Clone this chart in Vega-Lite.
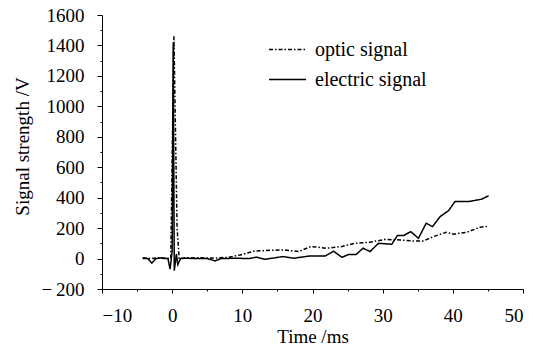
{
  "$schema": "https://vega.github.io/schema/vega-lite/v6.json",
  "autosize": "none",
  "width": 421,
  "height": 274,
  "padding": {"left": 102, "top": 15, "right": 21, "bottom": 70},
  "config": {
    "view": {"stroke": null},
    "font": "Liberation Serif",
    "axis": {"grid": false, "domainColor": "black", "tickColor": "black", "labelColor": "black", "titleColor": "black", "labelFont": "Liberation Serif", "titleFont": "Liberation Serif", "labelFontSize": 19, "titleFontSize": 19, "titleFontWeight": "normal"},
    "legend": {"labelFont": "Liberation Serif", "labelFontSize": 20, "labelColor": "black"}
  },
  "data": {"values": [
    {"t": -4.2, "v": 5, "s": "optic signal"},
    {"t": -3, "v": 0, "s": "optic signal"},
    {"t": -2, "v": 5, "s": "optic signal"},
    {"t": -1, "v": 0, "s": "optic signal"},
    {"t": -0.2, "v": 0, "s": "optic signal"},
    {"t": 0.25, "v": 1460, "s": "optic signal"},
    {"t": 0.7, "v": 200, "s": "optic signal"},
    {"t": 1.0, "v": 0, "s": "optic signal"},
    {"t": 2, "v": 5, "s": "optic signal"},
    {"t": 4, "v": 5, "s": "optic signal"},
    {"t": 6, "v": 3, "s": "optic signal"},
    {"t": 8, "v": 8, "s": "optic signal"},
    {"t": 9.7, "v": 24, "s": "optic signal"},
    {"t": 11.8, "v": 50, "s": "optic signal"},
    {"t": 15.8, "v": 57, "s": "optic signal"},
    {"t": 18.0, "v": 46, "s": "optic signal"},
    {"t": 19.8, "v": 79, "s": "optic signal"},
    {"t": 22.0, "v": 68, "s": "optic signal"},
    {"t": 24.2, "v": 79, "s": "optic signal"},
    {"t": 26.0, "v": 100, "s": "optic signal"},
    {"t": 28.2, "v": 107, "s": "optic signal"},
    {"t": 30.3, "v": 126, "s": "optic signal"},
    {"t": 32.5, "v": 122, "s": "optic signal"},
    {"t": 34.4, "v": 115, "s": "optic signal"},
    {"t": 35.8, "v": 115, "s": "optic signal"},
    {"t": 37.2, "v": 144, "s": "optic signal"},
    {"t": 39.1, "v": 173, "s": "optic signal"},
    {"t": 40.1, "v": 160, "s": "optic signal"},
    {"t": 42.0, "v": 173, "s": "optic signal"},
    {"t": 43.9, "v": 206, "s": "optic signal"},
    {"t": 45.1, "v": 212, "s": "optic signal"},
    {"t": -4.2, "v": 0, "s": "electric signal"},
    {"t": -3.5, "v": 0, "s": "electric signal"},
    {"t": -2.9, "v": -30, "s": "electric signal"},
    {"t": -2.3, "v": 0, "s": "electric signal"},
    {"t": -1.5, "v": 5, "s": "electric signal"},
    {"t": -0.6, "v": 0, "s": "electric signal"},
    {"t": -0.3, "v": -70, "s": "electric signal"},
    {"t": 0.0, "v": 50, "s": "electric signal"},
    {"t": 0.15, "v": 1420, "s": "electric signal"},
    {"t": 0.3, "v": -80, "s": "electric signal"},
    {"t": 0.6, "v": 30, "s": "electric signal"},
    {"t": 0.8, "v": -40, "s": "electric signal"},
    {"t": 1.2, "v": 0, "s": "electric signal"},
    {"t": 2, "v": 3, "s": "electric signal"},
    {"t": 3, "v": 0, "s": "electric signal"},
    {"t": 5, "v": 0, "s": "electric signal"},
    {"t": 6.1, "v": -15, "s": "electric signal"},
    {"t": 7, "v": 0, "s": "electric signal"},
    {"t": 9, "v": 2, "s": "electric signal"},
    {"t": 11.1, "v": 0, "s": "electric signal"},
    {"t": 12.0, "v": 10, "s": "electric signal"},
    {"t": 13.2, "v": -5, "s": "electric signal"},
    {"t": 15.8, "v": 13, "s": "electric signal"},
    {"t": 17.3, "v": 2, "s": "electric signal"},
    {"t": 19.6, "v": 17, "s": "electric signal"},
    {"t": 21.8, "v": 17, "s": "electric signal"},
    {"t": 23.0, "v": 48, "s": "electric signal"},
    {"t": 24.2, "v": 8, "s": "electric signal"},
    {"t": 25.1, "v": 26, "s": "electric signal"},
    {"t": 26.2, "v": 26, "s": "electric signal"},
    {"t": 27.2, "v": 68, "s": "electric signal"},
    {"t": 28.2, "v": 46, "s": "electric signal"},
    {"t": 29.4, "v": 100, "s": "electric signal"},
    {"t": 31.3, "v": 94, "s": "electric signal"},
    {"t": 32.1, "v": 151, "s": "electric signal"},
    {"t": 33.0, "v": 151, "s": "electric signal"},
    {"t": 34.0, "v": 177, "s": "electric signal"},
    {"t": 35.1, "v": 133, "s": "electric signal"},
    {"t": 36.2, "v": 232, "s": "electric signal"},
    {"t": 37.1, "v": 210, "s": "electric signal"},
    {"t": 38.2, "v": 276, "s": "electric signal"},
    {"t": 39.4, "v": 315, "s": "electric signal"},
    {"t": 40.3, "v": 374, "s": "electric signal"},
    {"t": 42.2, "v": 374, "s": "electric signal"},
    {"t": 44.1, "v": 390, "s": "electric signal"},
    {"t": 45.1, "v": 413, "s": "electric signal"}
  ]},
  "resolve": {"axis": {"x": "independent", "y": "independent"}},
  "layer": [
    {
      "mark": {"type": "line", "strokeWidth": 1.5, "color": "black"},
      "encoding": {
        "x": {"field": "t", "type": "quantitative", "scale": {"domain": [-10, 50], "nice": false, "zero": false},
              "axis": {"orient": "bottom", "values": [-10, 0, 10, 20, 30, 40, 50], "format": "d", "tickSize": 4, "labelPadding": 13, "title": "Time /ms", "titleFontWeight": "normal", "titlePadding": 2}},
        "y": {"field": "v", "type": "quantitative", "scale": {"domain": [-200, 1600], "nice": false},
              "axis": {"orient": "left", "values": [-200, 0, 200, 400, 600, 800, 1000, 1200, 1400, 1600], "format": "d", "labelExpr": "datum.value < 0 ? '\u2212\u2009' + abs(datum.value) : datum.label", "tickSize": 5, "labelPadding": 13, "title": "Signal strength /V", "titleFontWeight": "normal", "titleX": -70, "titleY": 131}},
        "strokeDash": {"field": "s", "type": "nominal",
          "scale": {"domain": ["optic signal", "electric signal"], "range": [[4, 2, 1.5, 2], [1, 0]]},
          "legend": {"title": null, "orient": "none", "legendX": 166, "legendY": 15, "padding": 0, "symbolType": "stroke", "symbolSize": 1369, "symbolStrokeColor": "black", "symbolStrokeWidth": 1.5, "labelOffset": 8, "labelFontSize": 20, "rowPadding": -14}}
      }
    },
    {
      "mark": {"type": "point", "opacity": 0},
      "encoding": {
        "x": {"field": "t", "type": "quantitative",
              "axis": {"orient": "bottom", "values": [-5, 5, 15, 25, 35, 45], "tickSize": 2, "labels": false, "domain": false, "title": null}},
        "y": {"field": "v", "type": "quantitative",
              "axis": {"orient": "left", "values": [-100, 100, 300, 500, 700, 900, 1100, 1300, 1500], "tickSize": 2, "labels": false, "domain": false, "title": null}}
      }
    }
  ]
}
